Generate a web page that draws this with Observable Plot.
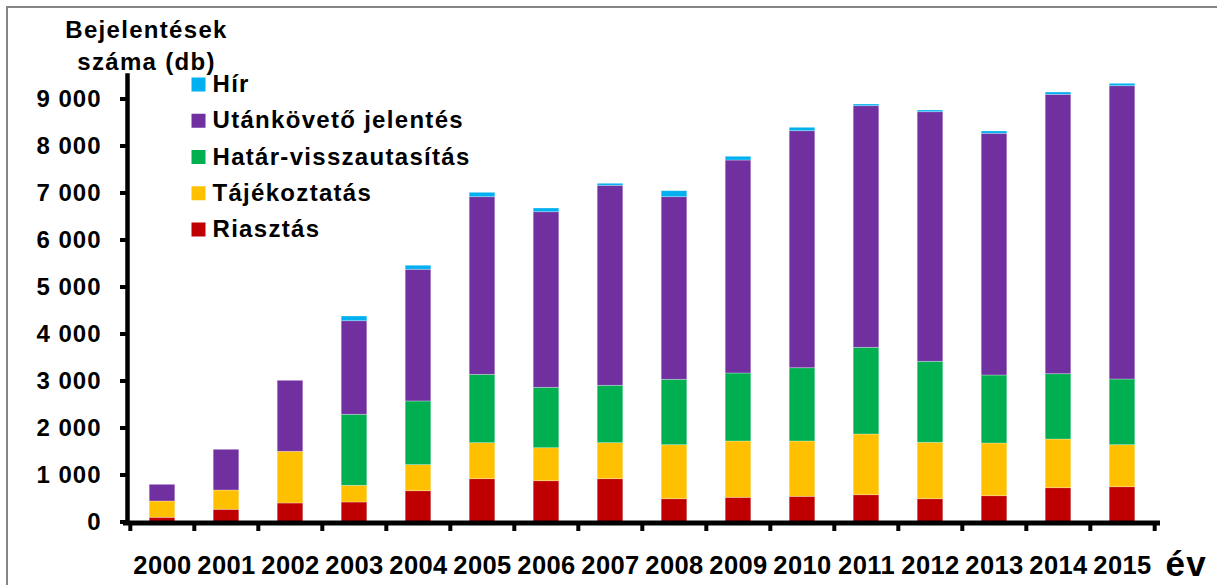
<!DOCTYPE html>
<html>
<head>
<meta charset="utf-8">
<script src="https://cdn.jsdelivr.net/npm/d3@7"></script>
<script src="https://cdn.jsdelivr.net/npm/@observablehq/plot@0.6"></script>
<style>
html, body { margin: 0; padding: 0; background: #fff; overflow: hidden; }
#wrap { position: relative; width: 1217px; height: 585px; }
#wrap svg { display: block; }
#border { position: absolute; left: 6px; top: 6px; width: 1400px; height: 800px; border: 2px solid #858585; box-sizing: border-box; pointer-events: none; }
#wrap g[aria-label="y-axis tick label"] text { letter-spacing: 1px; }
#wrap g[aria-label="x-axis tick label"] text { letter-spacing: 0.4px; }
#wrap g[aria-label="text"] text { letter-spacing: 1.3px; }
</style>
</head>
<body>
<div id="wrap"><div id="border"></div></div>
<script>
const years = [2000, 2001, 2002, 2003, 2004, 2005, 2006, 2007, 2008, 2009, 2010, 2011, 2012, 2013, 2014, 2015];
const series = ["Riasztás", "Tájékoztatás", "Határ-visszautasítás", "Utánkövető jelentés", "Hír"];
const colors = ["#C00000", "#FFC000", "#00B050", "#7030A0", "#00B0F0"];

const riasztas      = [90, 260, 394, 415, 655, 911, 868, 911, 485, 515, 536, 570, 485, 549, 719, 740];
const tajekoztatas  = [346, 410, 1100, 355, 555, 766, 702, 766, 1149, 1198, 1177, 1292, 1200, 1121, 1036, 894];
const hatar         = [0, 0, 0, 1511, 1355, 1454, 1285, 1221, 1392, 1447, 1559, 1844, 1724, 1447, 1390, 1398];
const utankoveto    = [355, 866, 1510, 1991, 2802, 3780, 3736, 4255, 3885, 4531, 5043, 5141, 5310, 5143, 5944, 6240];
const hir           = [0, 0, 0, 100, 85, 93, 79, 43, 127, 79, 72, 36, 36, 49, 49, 51];

const yTicks = [0, 1000, 2000, 3000, 4000, 5000, 6000, 7000, 8000, 9000];
const yTitle = "Bejelentések\nszáma (db)";
const xTitle = "év";

const valuesBySeries = [riasztas, tajekoztatas, hatar, utankoveto, hir];
const rows = [];
years.forEach((yr, i) => {
  series.forEach((s, j) => rows.push({year: yr, series: s, value: valuesBySeries[j][i]}));
});

const fmt = d => d3.format(",")(d).replace(/,/g, " ");
const legendOrder = [...series].reverse();
const half = (1157 - 127) / years.length / 2;

const legendMarks = legendOrder.flatMap((s, i) => [
  Plot.dot([s], {frameAnchor: "top-left", dx: 71, dy: 9 + 36.25 * i, symbol: "square", r: 7.9, fill: d => d, stroke: null}),
  Plot.text([s], {frameAnchor: "top-left", dx: 85, dy: 9 + 36.25 * i, text: d => d, textAnchor: "start", lineAnchor: "middle", fontSize: 24, fontWeight: "bold", fill: "#000"})
]);

const chart = Plot.plot({
  width: 1217,
  height: 585,
  marginLeft: 127,
  marginRight: 60,
  marginTop: 75,
  marginBottom: 63.5,
  style: {fontFamily: "'Liberation Sans', Arial, sans-serif", fontWeight: "bold", color: "#000", background: "transparent"},
  x: {type: "band", domain: years, padding: 0, axis: null, label: null},
  y: {domain: [0, 9500], axis: null, label: null},
  color: {domain: series, range: colors},
  marks: [
    Plot.barY(rows, {x: "year", y: "value", fill: "series", order: series, insetLeft: 19.2, insetRight: 19.2, stroke: "#fff", strokeOpacity: 0.35, strokeWidth: 0.8}),
    Plot.frame({anchor: "left", strokeWidth: 4.5, stroke: "#000"}),
    Plot.ruleY([0], {strokeWidth: 5, dy: 1, insetLeft: -4, insetRight: -3, stroke: "#000"}),
    Plot.axisY(yTicks, {label: null, tickSize: 7, tickPadding: 19, strokeWidth: 4, fontSize: 24, fontWeight: "bold", tickFormat: fmt}),
    Plot.axisX(years, {label: null, tickSize: 0, tickPadding: 34, fontSize: 25.5, fontWeight: "bold", tickFormat: d => String(d)}),
    Plot.axisX(years, {label: null, tickSize: 6, tickPadding: 0, strokeWidth: 4, dy: 3.5, dx: -half, tickFormat: () => ""}),
    Plot.axisX([years[years.length - 1]], {label: null, tickSize: 6, tickPadding: 0, strokeWidth: 4, dy: 3.5, dx: half, tickFormat: () => ""}),
    ...legendMarks,
    Plot.text([yTitle], {frameAnchor: "top-left", dx: 19, dy: -6, text: d => d, textAnchor: "middle", lineAnchor: "bottom", lineHeight: 1.3, fontSize: 24, fontWeight: "bold", fill: "#000"}),
    Plot.text([xTitle], {frameAnchor: "bottom-right", dx: 8, dy: 53.5, text: d => d, textAnchor: "start", lineAnchor: "bottom", fontSize: 35, fontWeight: "bold", fill: "#000"})
  ]
});

document.getElementById("wrap").insertBefore(chart, document.getElementById("border"));
</script>
</body>
</html>
